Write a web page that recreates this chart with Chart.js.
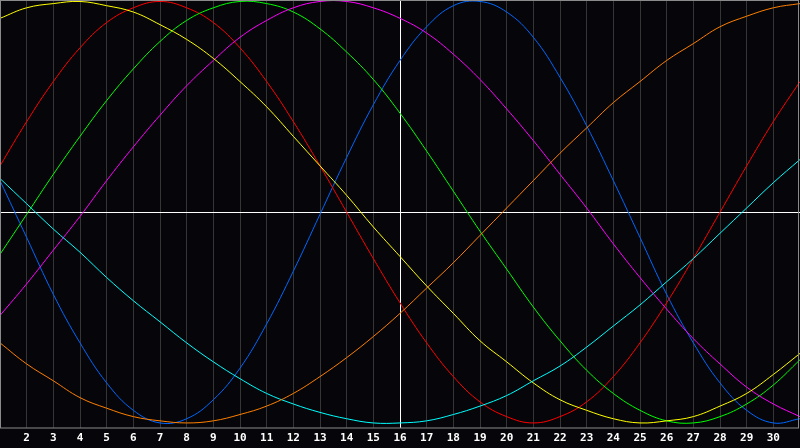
<!DOCTYPE html>
<html>
<head>
<meta charset="utf-8">
<script src="https://cdn.jsdelivr.net/npm/chart.js@4"></script>
<style>
  html, body { margin:0; padding:0; background:#06060a; }
  #wrap { width:800px; height:448px; }
</style>
</head>
<body>
<div id="wrap"><canvas id="chart-bio" width="800" height="448"></canvas></div>
<script>
// dias do mês (1..31)
var dias = [];
for (var i = 1; i <= 31; i++) dias.push(i);

// valores (-100..100), um por dia
var fisico     = [15,-12,-39,-62,-81,-94,-100,-98,-89,-74,-53,-28,-1,26,51,72,88,98,100,95,83,64,41,15,-12,-39,-62,-81,-94,-100,-98];
var emocional  = [22,43,62,78,90,97,100,97,90,78,62,43,22,0,-22,-43,-62,-78,-90,-97,-100,-97,-90,-78,-62,-43,-22,0,22,43,62];
var intelecto  = [-20,-1,18,36,53,68,81,91,97,100,99,95,87,76,63,47,29,10,-9,-27,-45,-61,-75,-86,-94,-99,-100,-97,-91,-82,-70];
var estetico   = [92,97,99,100,98,95,89,82,73,62,50,36,22,8,-7,-21,-35,-48,-61,-71,-81,-89,-94,-98,-100,-99,-97,-92,-86,-77,-67];
var intuicao   = [-49,-34,-18,-2,15,31,46,60,72,83,91,97,100,100,97,92,85,75,63,49,34,18,2,-15,-31,-46,-60,-72,-83,-91,-97];
var percepcao  = [-62,-72,-80,-88,-93,-97,-99,-100,-99,-96,-92,-86,-78,-69,-59,-48,-36,-24,-11,2,15,28,40,52,62,72,80,88,93,97,99];
var espiritual = [16,4,-8,-19,-31,-42,-52,-62,-71,-79,-86,-91,-95,-98,-100,-100,-99,-96,-92,-87,-80,-73,-64,-54,-44,-33,-22,-10,2,14,25];

var hoje = 16;

function serie(valores, cor) {
  return {
    data: valores.map(function(v, i) { return { x: dias[i], y: v }; }),
    borderColor: cor,
    borderWidth: 1,
    pointRadius: 0,
    tension: 0.4,
    fill: false
  };
}

// fundo + moldura
var moldura = {
  id: 'moldura',
  beforeDraw: function(chart) {
    var ctx = chart.ctx;
    ctx.save();
    ctx.fillStyle = '#06060a';
    ctx.fillRect(0, 0, chart.width, chart.height);
    ctx.restore();
  },
  afterDraw: function(chart) {
    var ctx = chart.ctx, a = chart.chartArea;
    ctx.save();
    ctx.strokeStyle = '#8a8a8a';
    ctx.lineWidth = 1;
    ctx.strokeRect(0.5, 0.5, 798, a.bottom - 0.5);
    ctx.restore();
  }
};

new Chart(document.getElementById('chart-bio'), {
  type: 'line',
  data: {
    datasets: [
      serie(percepcao, '#ff7f00'),
      serie(espiritual, '#00ffff'),
      serie(estetico, '#ffff00'),
      serie(intuicao, '#ff00ff'),
      serie(intelecto, '#00ff00'),
      serie(emocional, '#ff0000'),
      serie(fisico, '#0066ff')
    ]
  },
  options: {
    responsive: false,
    animation: false,
    events: [],
    layout: { padding: 0 },
    plugins: { legend: { display: false }, tooltip: { enabled: false } },
    scales: {
      x: {
        type: 'linear',
        min: 1, max: 31,
        afterFit: function(s) { s.height = 20; s.paddingLeft = 0; s.paddingRight = 0; },
        afterBuildTicks: function(s) { s.ticks = dias.map(function(d) { return { value: d }; }); },
        border: { display: false },
        grid: {
          drawTicks: false,
          lineWidth: 1,
          color: function(c) { return c.tick && c.tick.value === hoje ? '#ffffff' : '#353535'; }
        },
        ticks: {
          autoSkip: false,
          maxRotation: 0,
          padding: 4,
          color: '#ffffff',
          font: { family: 'DejaVu Sans Mono', size: 11, weight: 'bold' },
          callback: function(v) { return (v === 1 || v === 31) ? '' : String(v); }
        }
      },
      y: {
        min: -102.4, max: 100.7,
        afterFit: function(s) { s.width = 0; },
        afterBuildTicks: function(s) { s.ticks = [{ value: 0 }]; },
        border: { display: false },
        grid: { drawTicks: false, color: '#ffffff', lineWidth: 1 },
        ticks: { display: false }
      }
    }
  },
  plugins: [moldura]
});
</script>
</body>
</html>
